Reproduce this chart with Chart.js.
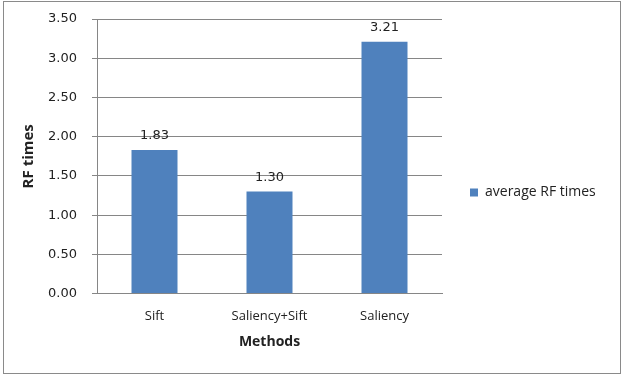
<!DOCTYPE html>
<html>
<head>
<meta charset="utf-8">
<script src="https://cdn.jsdelivr.net/npm/chart.js@4"></script>
<style>
  html, body { margin: 0; padding: 0; background: #fff; }
  #wrap { position: absolute; left: 0; top: 0; width: 624px; height: 375px; }
  #frame { position: absolute; left: 3px; top: 1px; width: 616px; height: 371px; border: 1px solid #8a8a8a; }
</style>
</head>
<body>
<div id="wrap">
  <canvas id="chart" width="624" height="375"></canvas>
  <div id="frame"></div>
</div>
<script>
const methods = ["Sift", "Saliency+Sift", "Saliency"];
const rfTimes = [1.83, 1.30, 3.21];
const seriesName = "average RF times";

const font = "'Open Sans', 'Liberation Sans', sans-serif";
const numFont = "'DejaVu Sans', sans-serif";

// value labels above each bar
const barLabels = {
  id: "barLabels",
  afterDatasetsDraw(chart) {
    const c = chart.ctx;
    const meta = chart.getDatasetMeta(0);
    c.save();
    c.font = "13px " + numFont;
    c.fillStyle = "#222";
    c.textAlign = "center";
    c.textBaseline = "alphabetic";
    meta.data.forEach((bar, i) => {
      c.fillText(rfTimes[i].toFixed(2), bar.x, bar.y - 11);
    });
    c.restore();
  }
};

// extra room to the right of the legend text, legend a bit lower
const legendGap = {
  id: "legendGap",
  afterInit(chart) {
    const lg = chart.legend;
    const fit = lg.fit.bind(lg);
    lg.fit = function () { fit(); this.width += 30; };
  },
  afterLayout(chart) {
    chart.legend.top += 8;
    chart.legend.bottom += 8;
  }
};

const ctx = document.getElementById("chart");
const chart = new Chart(ctx, {
  type: "bar",
  data: {
    labels: methods,
    datasets: [{
      label: seriesName,
      data: rfTimes,
      backgroundColor: "#4f81bd",
      barPercentage: 0.8,
      categoryPercentage: 0.5
    }]
  },
  options: {
    responsive: false,
    animation: false,
    layout: { padding: { left: 16, right: 0, top: 19, bottom: 25 } },
    plugins: {
      legend: {
        position: "right",
        labels: {
          boxWidth: 8,
          boxHeight: 8,
          padding: 28,
          color: "#222",
          font: { family: font, size: 14 }
        }
      },
      tooltip: { enabled: false }
    },
    scales: {
      x: {
        grid: { display: false, drawTicks: false },
        border: { color: "#868686" },
        ticks: { color: "#222", padding: 15, font: { family: font, size: 13 } },
        title: { display: true, text: "Methods", color: "#222", padding: { top: -6, bottom: 0 }, font: { family: font, size: 14, weight: "bold" } }
      },
      y: {
        min: 0,
        max: 3.5,
        afterFit(s) { s.width = 81; s.paddingTop = 0; s.paddingBottom = 0; },
        grid: { color: "#868686", tickLength: 5 },
        border: { color: "#868686" },
        ticks: {
          stepSize: 0.5,
          color: "#222",
          padding: 15,
          font: { family: numFont, size: 13 },
          callback: v => v.toFixed(2)
        },
        title: { display: true, text: "RF times", color: "#222", font: { family: font, size: 15, weight: "bold" } }
      }
    }
  },
  plugins: [barLabels, legendGap]
});
</script>
</body>
</html>
